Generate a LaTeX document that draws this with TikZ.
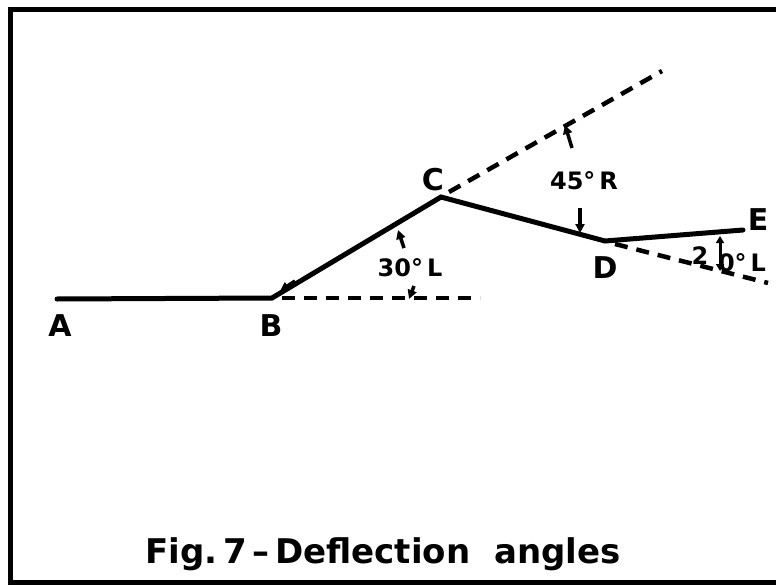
\documentclass[tikz,border=0pt]{standalone}
\usepackage{fontspec}
\setmainfont{DejaVu Sans}
\usetikzlibrary{arrows.meta}
\begin{document}
\begin{tikzpicture}[x=1pt,y=-1pt,
  solidline/.style={line width=5pt,line cap=round},
  dashline/.style={line width=4.5pt,dash pattern=on 13pt off 9pt},
  tick/.style={line width=3.5pt,-{Triangle[length=9pt,width=9pt]}},
  lbl/.style={font=\bfseries\fontsize{30}{32}\selectfont,inner sep=0pt},
  albl/.style={font=\bfseries\fontsize{24}{26}\selectfont,inner sep=0pt}]
\useasboundingbox (0,0) rectangle (776,586);
\fill[white] (0,0) rectangle (776,586);
% frame
\draw[line width=5pt] (780,10) -- (10,10) -- (10,582) -- (780,582);
% points
\coordinate (A) at (57,299);
\coordinate (B) at (272,298);
\coordinate (C) at (441,197);
\coordinate (D) at (605,241);
\coordinate (E) at (743,230);
\coordinate (Bx) at (480,298);
\coordinate (Cx) at (662,71);
\coordinate (Dx) at (768,283);
% dashed extensions
\draw[dashline] (B) ++(10,0) -- (Bx);
\draw[dashline] (C) ++(8,-5) -- (Cx);
\draw[dashline] (D) ++(10,3) -- (Dx);
% traverse
\draw[solidline] (A) -- (B) -- (C) -- (D) -- (E);
% angle marks
\coordinate (t1a) at (404,248); \coordinate (t1b) at (398,230);
\draw[tick] (t1a) -- (t1b);
\coordinate (t2a) at (414,286); \coordinate (t2b) at (409,299);
\draw[tick] (t2a) -- (t2b);
\coordinate (t3a) at (295,281); \coordinate (t3b) at (280,291);
\draw[tick] (t3a) -- (t3b);
\coordinate (t4a) at (572,148); \coordinate (t4b) at (565,125);
\draw[tick] (t4a) -- (t4b);
\coordinate (t5a) at (580,208); \coordinate (t5b) at (580,233);
\draw[tick] (t5a) -- (t5b);
\coordinate (t6a) at (720,236); \coordinate (t6b) at (720,271);
\draw[line width=3pt,{Triangle[length=7pt,width=8pt]}-{Triangle[length=7pt,width=8pt]}] (t6a) -- (t6b);
% labels
\node[lbl] (lA) at (60,326) {A};
\node[lbl] (lB) at (271,326) {B};
\node[lbl] (lC) at (433,180) {C};
\node[lbl] (lD) at (605,268) {D};
\node[lbl] (lE) at (758,220) {E};
\node[albl] (a30) at (410,268) {30°\,L};
\node[albl] (a45) at (584,181) {45°\,R};
\node[albl] (a2) at (700,256) {2};
\node[albl] (a0) at (742,263) {0°\,L};
\node[font=\bfseries\fontsize{34}{36}\selectfont,inner sep=0pt] (cap) at (383,554) {Fig.\,7\,–\,Deflection\ \ angles};
\end{tikzpicture}
\end{document}
